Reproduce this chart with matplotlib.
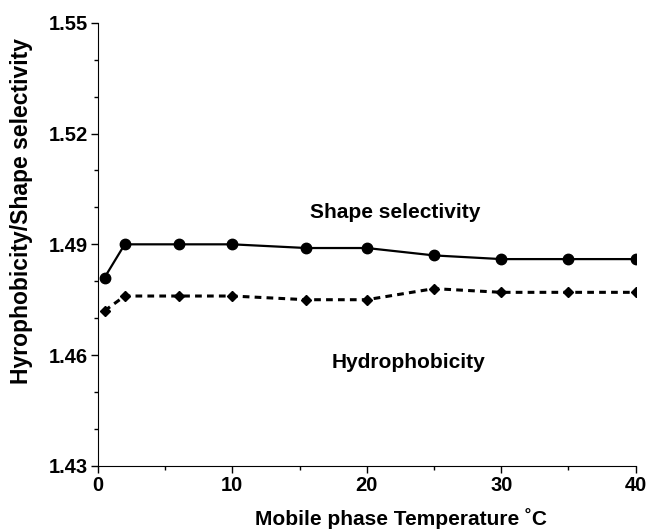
import matplotlib
matplotlib.use("Agg")
import matplotlib.pyplot as plt
from matplotlib.ticker import MultipleLocator, FormatStrFormatter

plt.rcParams['font.family'] = ['Liberation Sans', 'DejaVu Sans']
plt.rcParams['font.weight'] = 'bold'

# datos
temp = [0.5, 2, 6, 10, 15.5, 20, 25, 30, 35, 40]
shape_sel = [1.481, 1.490, 1.490, 1.490, 1.489, 1.489, 1.487, 1.486, 1.486, 1.486]
hydrophob = [1.472, 1.476, 1.476, 1.476, 1.475, 1.475, 1.478, 1.477, 1.477, 1.477]
y_ticks = [1.43, 1.46, 1.49, 1.52, 1.55]
x_ticks = [0, 10, 20, 30, 40]

fig = plt.figure(figsize=(6.48, 5.30), dpi=100)
ax = fig.add_axes([0.151, 0.121, 0.830, 0.836])

ax.plot(temp, shape_sel, color='black', linewidth=1.6, marker='o', markersize=7.5)
ax.plot(temp, hydrophob, color='black', linewidth=2.2, linestyle=(0, (2.2, 1.7)),
        marker='D', markersize=5.5)

ax.text(22.1, 1.4985, "Shape selectivity", ha='center', va='center', fontsize=15, fontweight='bold')
ax.text(23.1, 1.4579, "Hydrophobicity", ha='center', va='center', fontsize=15, fontweight='bold')

ax.set_xlim(0, 40)
ax.set_ylim(1.43, 1.55)
ax.set_xticks(x_ticks)
ax.set_yticks(y_ticks)
ax.xaxis.set_minor_locator(MultipleLocator(5))
ax.yaxis.set_minor_locator(MultipleLocator(0.01))
ax.yaxis.set_major_formatter(FormatStrFormatter('%.2f'))

ax.spines['top'].set_visible(False)
ax.spines['right'].set_visible(False)
ax.tick_params(which='major', direction='out', length=5, width=1, labelsize=14.5, pad=2)
ax.tick_params(which='minor', direction='out', length=3, width=1)
for lbl in ax.get_xticklabels() + ax.get_yticklabels():
    lbl.set_fontweight('bold')

ax.set_xlabel("Mobile phase Temperature ˚C", fontsize=15, fontweight='bold')
ax.set_ylabel("Hyrophobicity/Shape selectivity", fontsize=16.5, fontweight='bold')
ax.xaxis.set_label_coords(0.563, -0.095)
ax.yaxis.set_label_coords(-0.12, 0.575)

plt.savefig("out.png", dpi=100)
